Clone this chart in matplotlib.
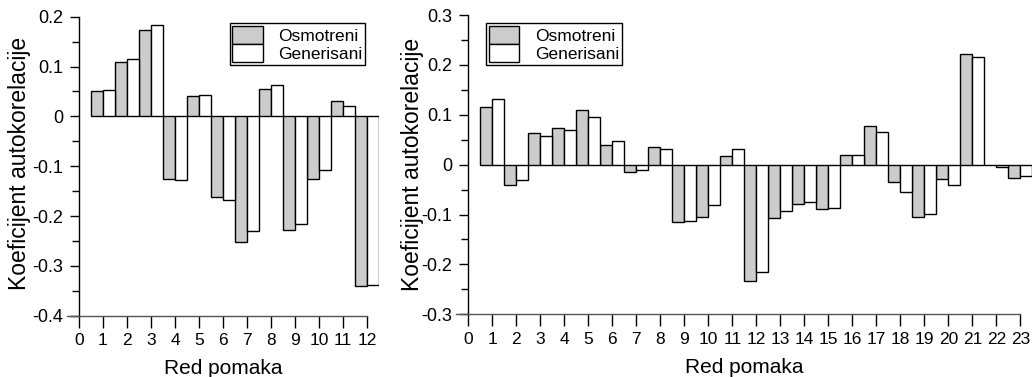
import numpy as np
import matplotlib
matplotlib.use('Agg')
import matplotlib.pyplot as plt
from matplotlib.ticker import MultipleLocator, FuncFormatter

plt.rcParams['font.family'] = ['Liberation Sans', 'DejaVu Sans']

# lijevi graf: lag 1..12
lags_left = np.arange(1, 13)
osmotreni_left = [0.051, 0.110, 0.174, -0.125, 0.040, -0.162, -0.252, 0.054, -0.228, -0.126, 0.031, -0.341]
generisani_left = [0.053, 0.116, 0.183, -0.127, 0.043, -0.168, -0.230, 0.062, -0.216, -0.108, 0.020, -0.339]

# desni graf: lag 1..23
lags_right = np.arange(1, 24)
osmotreni_right = [0.116, -0.040, 0.063, 0.073, 0.110, 0.039, -0.015, 0.035, -0.114, -0.104,
                   0.018, -0.234, -0.106, -0.079, -0.088, 0.019, 0.078, -0.035, -0.104, -0.029,
                   0.222, -0.001, -0.027]
generisani_right = [0.131, -0.031, 0.057, 0.069, 0.096, 0.047, -0.010, 0.031, -0.112, -0.081,
                    0.031, -0.215, -0.093, -0.074, -0.086, 0.020, 0.066, -0.055, -0.098, -0.041,
                    0.216, -0.004, -0.023]

GRAY = '#cccccc'


def fmt(v, pos):
    if abs(v) < 1e-9:
        return '0'
    return f'{v:.1f}'


def draw_panel(ax, lags, obs, gen, ylim, legend_anchor):
    ax.bar(lags - 0.5, obs, width=0.5, align='edge', color=GRAY,
           edgecolor='black', linewidth=1.0, label='Osmotreni')
    ax.bar(lags, gen, width=0.5, align='edge', color='white',
           edgecolor='black', linewidth=1.0, label='Generisani')

    n = lags[-1]
    ax.set_xlim(-0.5, n + 0.5)
    ax.set_ylim(*ylim)

    for s in ['top', 'right']:
        ax.spines[s].set_visible(False)
    ax.spines['left'].set_position(('data', 0))
    ax.spines['left'].set_bounds(ylim[0], ylim[1])
    ax.spines['bottom'].set_bounds(-0.5, n)
    ax.spines['bottom'].set_color('#555555')
    ax.spines['left'].set_linewidth(1.0)
    ax.spines['bottom'].set_linewidth(1.0)

    ax.set_xticks(np.arange(0, n + 1))
    ax.yaxis.set_major_locator(MultipleLocator(0.1))
    ax.yaxis.set_minor_locator(MultipleLocator(0.05))
    ax.yaxis.set_major_formatter(FuncFormatter(fmt))
    ax.tick_params(axis='x', which='major', direction='out', length=8.5, width=1.0,
                   pad=4, labelsize=12.5)
    ax.tick_params(axis='y', which='major', direction='out', length=6.5, width=1.0,
                   pad=5, labelsize=13)
    ax.tick_params(axis='y', which='minor', direction='out', length=5, width=1.0)

    ax.set_xlabel('Red pomaka', fontsize=15)
    ax.set_ylabel('Koeficijent autokorelacije', fontsize=16.5)
    ax.xaxis.set_label_coords(0.5, -0.145)

    leg = ax.legend(loc='upper left', bbox_to_anchor=legend_anchor, borderaxespad=0,
                    fontsize=12.5, handlelength=1.75, handleheight=1.25, labelspacing=0,
                    handletextpad=0.9, borderpad=0.15, fancybox=False, framealpha=1)
    leg.get_frame().set_edgecolor('black')
    leg.get_frame().set_linewidth(1.0)


fig = plt.figure(figsize=(10.32, 3.77), dpi=100)
ax1 = fig.add_axes([0.0649, 0.1626, 0.3023, 0.7931])
ax2 = fig.add_axes([0.4422, 0.1663, 0.5581, 0.7939])

draw_panel(ax1, lags_left, osmotreni_left, generisani_left, (-0.4, 0.2), (0.522, 0.979))
draw_panel(ax2, lags_right, osmotreni_right, generisani_right, (-0.3, 0.3), (0.0516, 0.973))

ax1.yaxis.set_label_coords(-0.115, 0.51)
ax2.yaxis.set_label_coords(-0.056, 0.5)

fig.savefig('out.png', dpi=100)
